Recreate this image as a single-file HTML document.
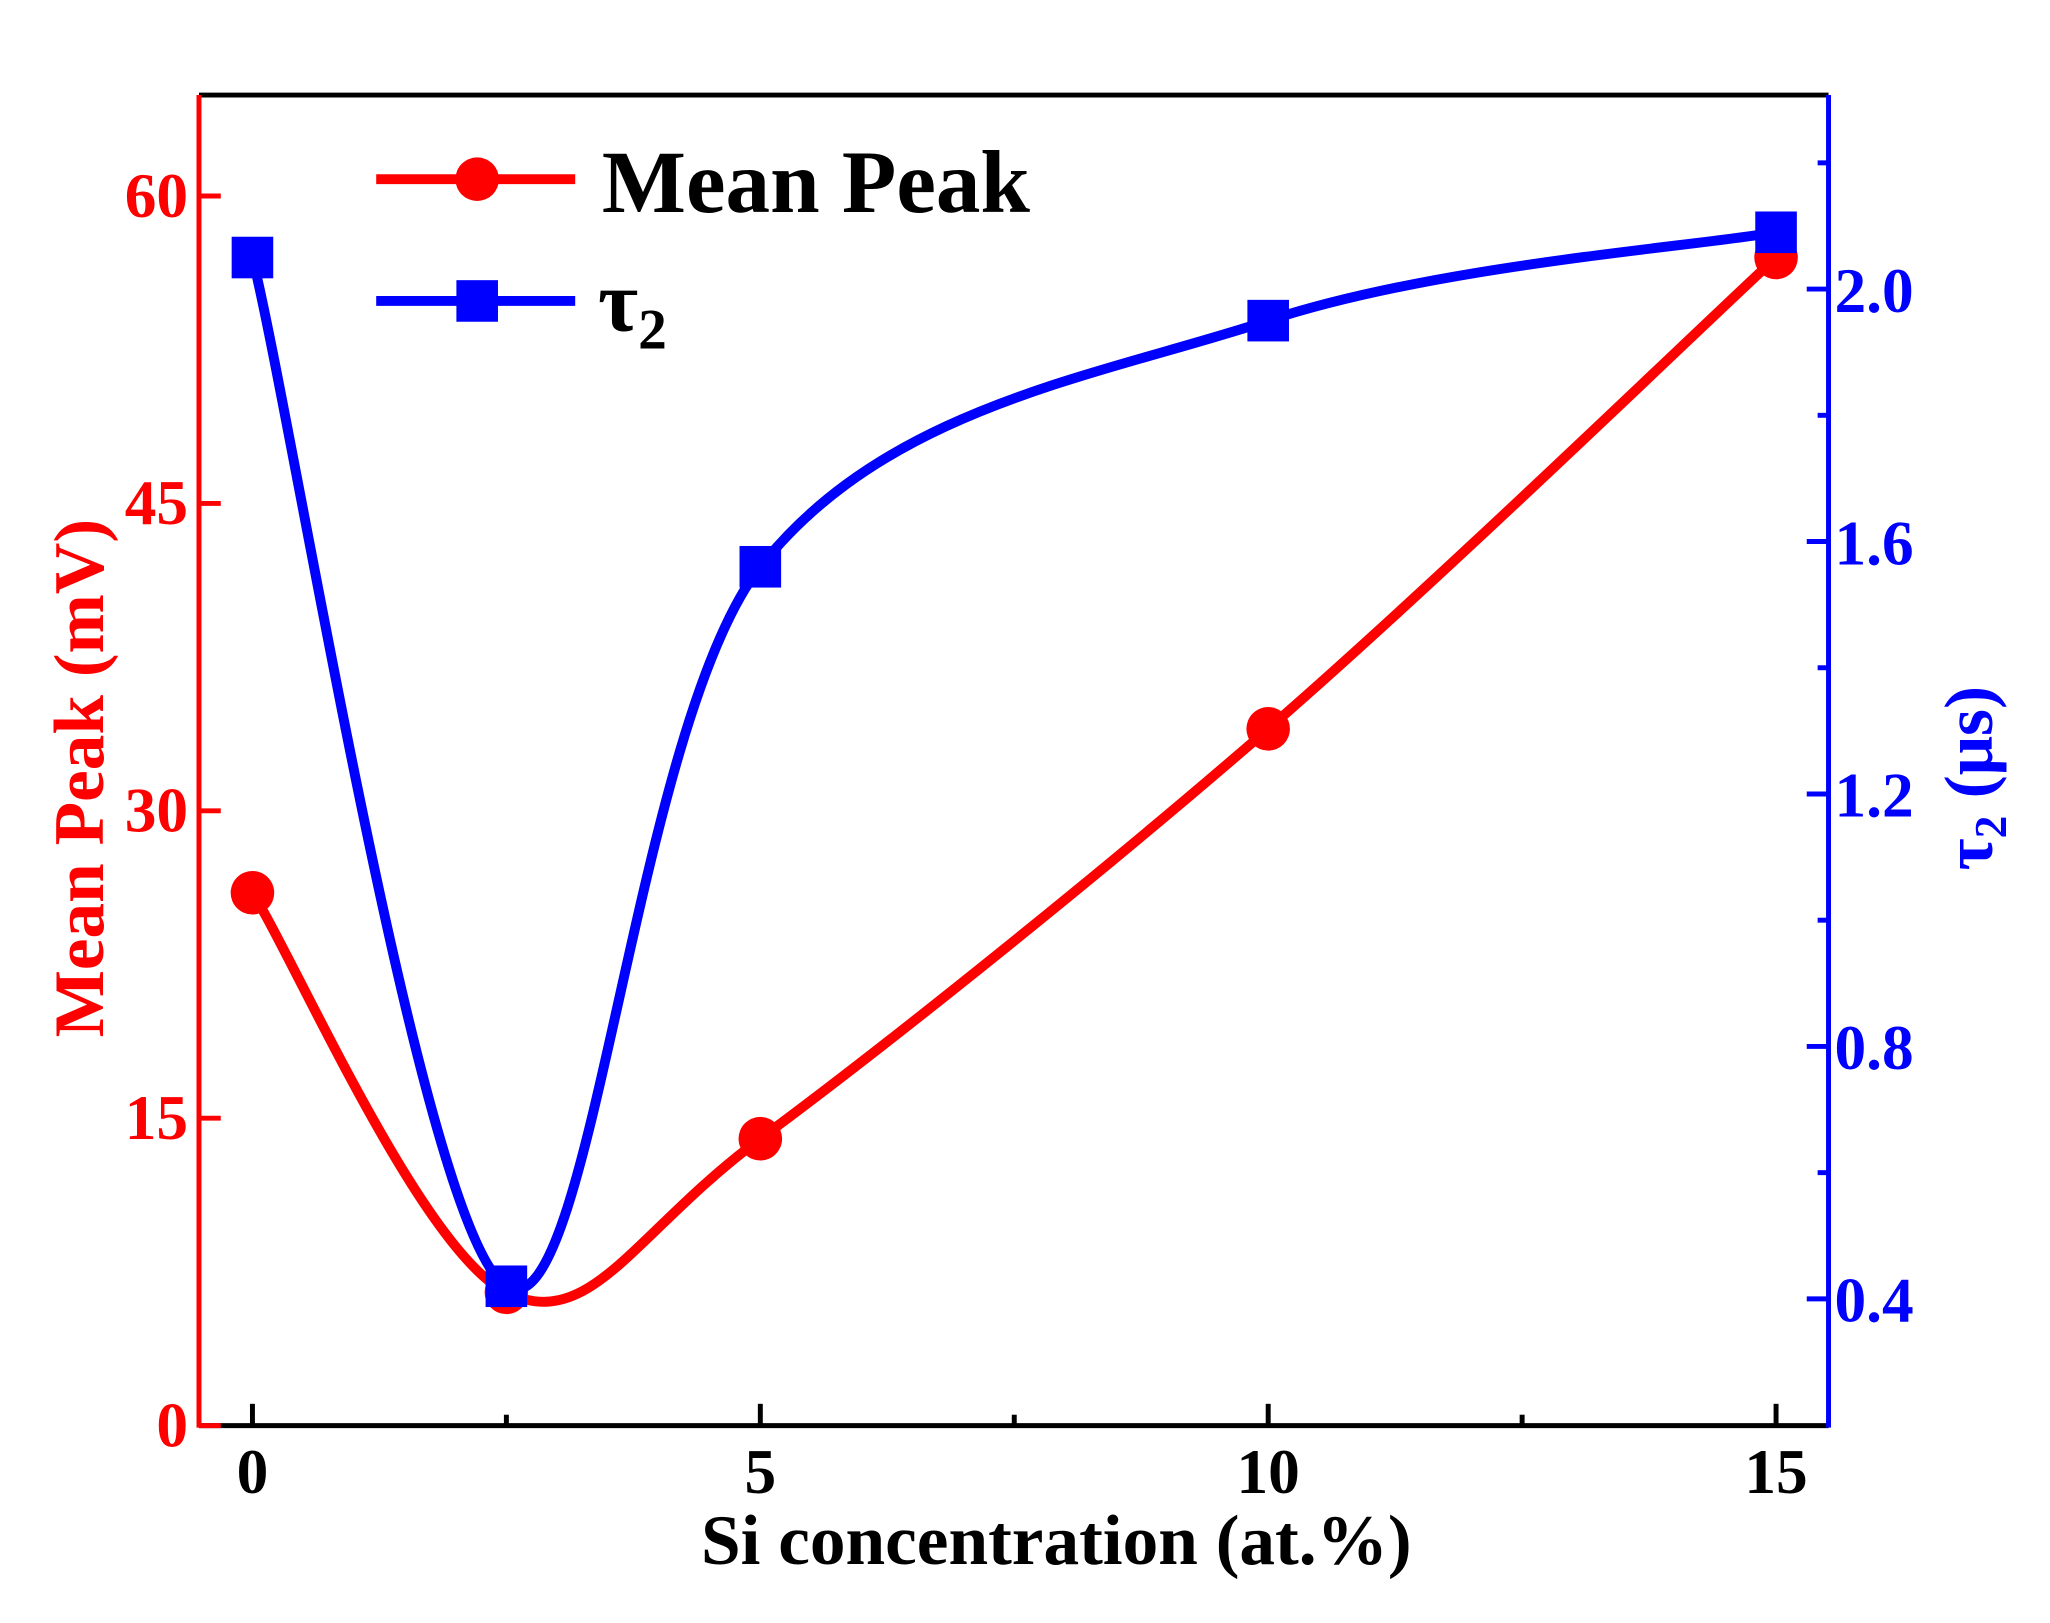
<!DOCTYPE html>
<html><head><meta charset="utf-8"><style>
html,body{margin:0;padding:0;background:#fff;}
svg text{font-family:"Liberation Serif",serif;font-weight:bold;}
</style></head><body>
<svg id="chart" width="2050" height="1618" xmlns="http://www.w3.org/2000/svg">
<g transform="scale(0.99)">
<g id="axes"></g>
<g id="series"></g>
<g id="legend">
  <line x1="380" y1="181" x2="581" y2="181" stroke="#ff0000" stroke-width="10"/>
  <circle cx="482" cy="181" r="22" fill="#ff0000"/>
  <text x="608" y="214" font-size="90" fill="#000">Mean Peak</text>
  <line x1="380" y1="304" x2="581" y2="304" stroke="#0000ff" stroke-width="10"/>
  <rect x="461" y="283" width="42" height="42" fill="#0000ff"/>
  <text x="604" y="334" font-size="88" fill="#000">τ<tspan font-size="58" dy="18">2</tspan></text>
</g>
<text x="1067" y="1580" font-size="72" text-anchor="middle" fill="#000">Si concentration (at.%)</text>
<text transform="translate(104,786) rotate(-90)" font-size="72" text-anchor="middle" fill="#ff0000">Mean Peak (mV)</text>
<text transform="translate(2012,786) rotate(-90)" font-size="70" text-anchor="middle" fill="#0000ff">τ<tspan font-size="46" dy="14">2</tspan><tspan dy="-14"> (μs)</tspan></text>
</g>
</svg>
<script>
const xValues = [0, 2.5, 5, 10, 15];
const meanPeak = [26, 6.5, 14, 34, 57];
const tau2 = [2.05, 0.42, 1.56, 1.95, 2.09];
const xTicks = [0, 5, 10, 15];
const xMinorTicks = [2.5, 7.5, 12.5];
const leftTicks = [0, 15, 30, 45, 60];
const rightTicks = [0.4, 0.8, 1.2, 1.6, 2.0];
const rightMinorTicks = [0.6, 1.0, 1.4, 1.8, 2.2];

const L=201,R=1847,T=96,B=1440;
const X=v=>255+(v-0)*(1794-255)/15;
const YL=v=>1440+(v-0)*(198-1440)/60;
const YR=v=>1312+(v-0.4)*(292-1312)/1.6;
const NS="http://www.w3.org/2000/svg";
function mk(tag,attrs,parent){const e=document.createElementNS(NS,tag);for(const k in attrs)e.setAttribute(k,attrs[k]);parent.appendChild(e);return e;}
const axes=document.getElementById('axes');
const series=document.getElementById('series');

let e;
e=mk('line',{x1:L,y1:T,x2:R,y2:T,stroke:'#000','stroke-width':5},axes);


e=mk('line',{x1:L,y1:B,x2:R,y2:B,stroke:'#000','stroke-width':5},axes);


e=mk('line',{x1:L,y1:T,x2:L,y2:B+2,stroke:'#ff0000','stroke-width':5},axes);


e=mk('line',{x1:R,y1:T,x2:R,y2:B+2,stroke:'#0000ff','stroke-width':5},axes);



xTicks.forEach(v=>{
  e=mk('line',{x1:X(v),y1:B,x2:X(v),y2:B-22,stroke:'#000','stroke-width':5},axes);
  
  
  e=mk('text',{x:X(v),y:1508,'font-size':64,'text-anchor':'middle',fill:'#000'},axes);
  e.textContent=v;
  
  
});
xMinorTicks.forEach(v=>{
  e=mk('line',{x1:X(v),y1:B,x2:X(v),y2:B-11,stroke:'#000','stroke-width':5},axes);
  
  
});
leftTicks.forEach(v=>{
  e=mk('line',{x1:L,y1:YL(v),x2:L+22,y2:YL(v),stroke:'#ff0000','stroke-width':5},axes);
  
  
  e=mk('text',{x:190,y:YL(v)+21,'font-size':64,'text-anchor':'end',fill:'#ff0000'},axes);
  e.textContent=v;
  
  
});
rightTicks.forEach(v=>{
  e=mk('line',{x1:R,y1:YR(v),x2:R-22,y2:YR(v),stroke:'#0000ff','stroke-width':5},axes);
  
  
  e=mk('text',{x:1853,y:YR(v)+23,'font-size':64,'text-anchor':'start',fill:'#0000ff'},axes);
  e.textContent=v.toFixed(1);
  
  
});
rightMinorTicks.forEach(v=>{
  e=mk('line',{x1:R,y1:YR(v),x2:R-11,y2:YR(v),stroke:'#0000ff','stroke-width':5},axes);
  
  
});

function spline(pts){
  let d=`M${pts[0][0]},${pts[0][1]}`;
  for(let i=0;i<pts.length-1;i++){
    const p0=pts[Math.max(i-1,0)],p1=pts[i],p2=pts[i+1],p3=pts[Math.min(i+2,pts.length-1)];
    const c1=[p1[0]+(p2[0]-p0[0])/6,p1[1]+(p2[1]-p0[1])/6];
    const c2=[p2[0]-(p3[0]-p1[0])/6,p2[1]-(p3[1]-p1[1])/6];
    d+=` C${c1[0]},${c1[1]} ${c2[0]},${c2[1]} ${p2[0]},${p2[1]}`;
  }
  return d;
}
const redPts=xValues.map((x,i)=>[X(x),YL(meanPeak[i])]);
const bluePts=xValues.map((x,i)=>[X(x),YR(tau2[i])]);
e=mk('path',{d:spline(redPts),fill:'none',stroke:'#ff0000','stroke-width':10},series);


redPts.forEach(p=>{
  e=mk('circle',{cx:p[0],cy:p[1],r:22,fill:'#ff0000'},series);
  
  
});
e=mk('path',{d:spline(bluePts),fill:'none',stroke:'#0000ff','stroke-width':10},series);


bluePts.forEach(p=>{
  e=mk('rect',{x:p[0]-21,y:p[1]-21,width:42,height:42,fill:'#0000ff'},series);
  
  
});
</script>
</body></html>
